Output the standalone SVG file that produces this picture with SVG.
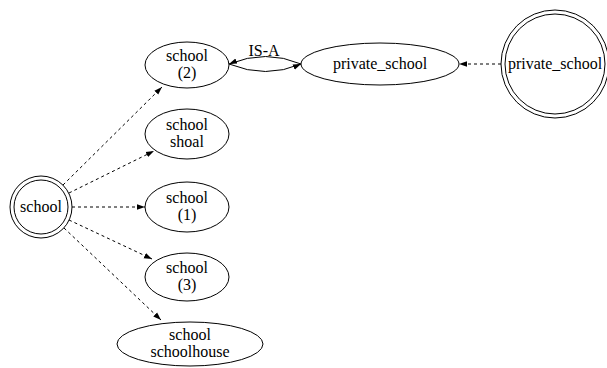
<svg xmlns="http://www.w3.org/2000/svg" width="607" height="368" viewBox="0 0 607 368">
<defs>
<marker id="ah" viewBox="0 0 10 10" refX="10" refY="5" markerWidth="8" markerHeight="8" markerUnits="userSpaceOnUse" orient="auto">
<path d="M0,1.5 L10,5 L0,8.5 Z" fill="#000"/>
</marker>
</defs>
<style>
.n{fill:none;stroke:#000;stroke-width:1}
.t{font-family:"Liberation Serif","Times New Roman",serif;font-size:16px;fill:#000;text-anchor:middle}
.e{fill:none;stroke:#000;stroke-width:1;marker-end:url(#ah)}
.d{stroke-dasharray:3,3}
</style>
<rect width="607" height="368" fill="#fff"/>
<g id="connectors">
<path class="e d" d="M63,185 L162,87"/>
<path class="e d" d="M69,193 L154,151"/>
<path class="e d" d="M72,207 L145,207"/>
<path class="e d" d="M69,220 L152,259"/>
<path class="e d" d="M64,228 L161,320"/>
<path class="e d" d="M501,64 L459,64"/>
<path class="e" d="M301,64 Q266,49 229,64"/>
<path class="e" d="M229,64 Q266,79 301,64"/>
<text class="t" x="264" y="56">IS-A</text>
</g>
<g id="school">
<circle class="n" cx="41" cy="207" r="31"/>
<circle class="n" cx="41" cy="207" r="27"/>
<text class="t" x="41" y="212">school</text>
</g>
<g id="school2">
<ellipse class="n" cx="187" cy="65" rx="42" ry="23"/>
<text class="t" x="187" y="61">school</text>
<text class="t" x="187" y="78">(2)</text>
</g>
<g id="shoal">
<ellipse class="n" cx="187" cy="134" rx="42" ry="25"/>
<text class="t" x="187" y="130">school</text>
<text class="t" x="187" y="147">shoal</text>
</g>
<g id="school1">
<ellipse class="n" cx="187" cy="207" rx="42" ry="25"/>
<text class="t" x="187" y="203">school</text>
<text class="t" x="187" y="220">(1)</text>
</g>
<g id="school3">
<ellipse class="n" cx="187" cy="277" rx="42" ry="24"/>
<text class="t" x="187" y="273">school</text>
<text class="t" x="187" y="290">(3)</text>
</g>
<g id="schoolhouse">
<ellipse class="n" cx="190" cy="344" rx="73" ry="22"/>
<text class="t" x="190" y="340">school</text>
<text class="t" x="190" y="357">schoolhouse</text>
</g>
<g id="private_school">
<ellipse class="n" cx="380" cy="64" rx="79" ry="21"/>
<text class="t" x="380" y="69">private_school</text>
</g>
<g id="private_school_root">
<circle class="n" cx="555" cy="64" r="54"/>
<circle class="n" cx="555" cy="64" r="50"/>
<text class="t" x="555" y="69">private_school</text>
</g>
</svg>
